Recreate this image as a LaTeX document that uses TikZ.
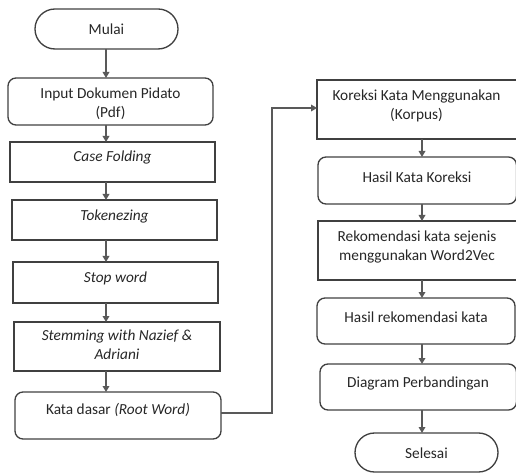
\documentclass[tikz,border=0pt]{standalone}
\usepackage{fontspec}
\setmainfont{Carlito}
\usetikzlibrary{arrows.meta,shapes.misc}
\begin{document}
\begin{tikzpicture}[x=0.75pt,y=-0.75pt,
  every node/.style={inner sep=0pt,outer sep=0pt},
  sq/.style={draw=black!75,line width=1pt,rectangle},
  rnd/.style={draw=black!75,line width=1pt,rectangle,rounded corners=6pt},
  term/.style={draw=black!75,line width=1pt,rounded rectangle},
  txt/.style={align=center,text=black!85,font=\fontsize{11.5}{14.25}\selectfont},
  conn/.style={draw=black!65,line width=0.9pt,-{Triangle[width=5pt,length=4.5pt]}}]
\useasboundingbox (0,0) rectangle (516,473);
% left column
\node[term,minimum width=107.25pt,minimum height=30pt] (mulai) at (106.5,29) {};
\node[txt] at (106.5,29) {Mulai};
\node[rnd,minimum width=153.75pt,minimum height=35.25pt] (input) at (110.5,101.5) {};
\node[txt] at (110.5,103.5) {Input Dokumen Pidato\\(Pdf)};
\node[sq,minimum width=153.75pt,minimum height=30pt] (case) at (112.5,162) {};
\node[txt] at (112.5,157) {\itshape Case Folding};
\node[sq,minimum width=153.75pt,minimum height=30pt] (token) at (114.5,220) {};
\node[txt] at (114.5,216) {\itshape Tokenezing};
\node[sq,minimum width=153.75pt,minimum height=30.75pt] (stop) at (115.5,282.5) {};
\node[txt] at (115.5,278) {\itshape Stop word};
\node[sq,minimum width=154.5pt,minimum height=36.75pt] (stem) at (117,346.5) {};
\node[txt] at (117,345) {\itshape Stemming with Nazief \&\\\itshape Adriani};
\node[rnd,minimum width=154.5pt,minimum height=35.25pt] (kata) at (118,415.5) {};
\node[txt] at (118,410) {Kata dasar \textit{(Root Word)}};
% right column
\node[sq,minimum width=149.6pt,minimum height=44.25pt] (koreksi) at (416.75,109.5) {};
\node[txt] at (416.5,106) {Koreksi Kata Menggunakan\\(Korpus)};
\node[rnd,minimum width=148.9pt,minimum height=35.25pt] (hasilk) at (417.25,180.5) {};
\node[txt] at (417,177) {Hasil Kata Koreksi};
\node[sq,minimum width=148.9pt,minimum height=44.25pt] (rekom) at (417.25,250.5) {};
\node[txt] at (417,246.5) {Rekomendasi kata sejenis\\menggunakan Word2Vec};
\node[rnd,minimum width=148.5pt,minimum height=34.5pt] (hasilr) at (416,321) {};
\node[txt] at (416,317) {Hasil rekomendasi kata};
\node[rnd,minimum width=147.4pt,minimum height=34.5pt] (diag) at (418.25,387) {};
\node[txt] at (418,383) {Diagram Perbandingan};
\node[term,minimum width=107.25pt,minimum height=29.25pt] (selesai) at (426.5,452.5) {};
\node[txt] at (426.5,453) {Selesai};
% connectors
\coordinate (lx) at (106,0);
\coordinate (rx) at (422,0);
\draw[conn] (mulai.south -| lx) -- (input.north -| lx);
\draw[conn] (input.south -| lx) -- (case.north -| lx);
\draw[conn] (case.south -| lx) -- (token.north -| lx);
\draw[conn] (token.south -| lx) -- (stop.north -| lx);
\draw[conn] (stop.south -| lx) -- (stem.north -| lx);
\draw[conn] (stem.south -| lx) -- (kata.north -| lx);
\coordinate (ky) at (0,413);
\coordinate (ty) at (0,108);
\coordinate (vx) at (272,0);
\draw[conn] (kata.east |- ky) -- (vx |- ky) -- (vx |- ty) -- (koreksi.west |- ty);
\draw[conn] (koreksi.south -| rx) -- (hasilk.north -| rx);
\draw[conn] (hasilk.south -| rx) -- (rekom.north -| rx);
\draw[conn] (rekom.south -| rx) -- (hasilr.north -| rx);
\draw[conn] (hasilr.south -| rx) -- (diag.north -| rx);
\draw[conn] (diag.south -| rx) -- (selesai.north -| rx);
\end{tikzpicture}
\end{document}
